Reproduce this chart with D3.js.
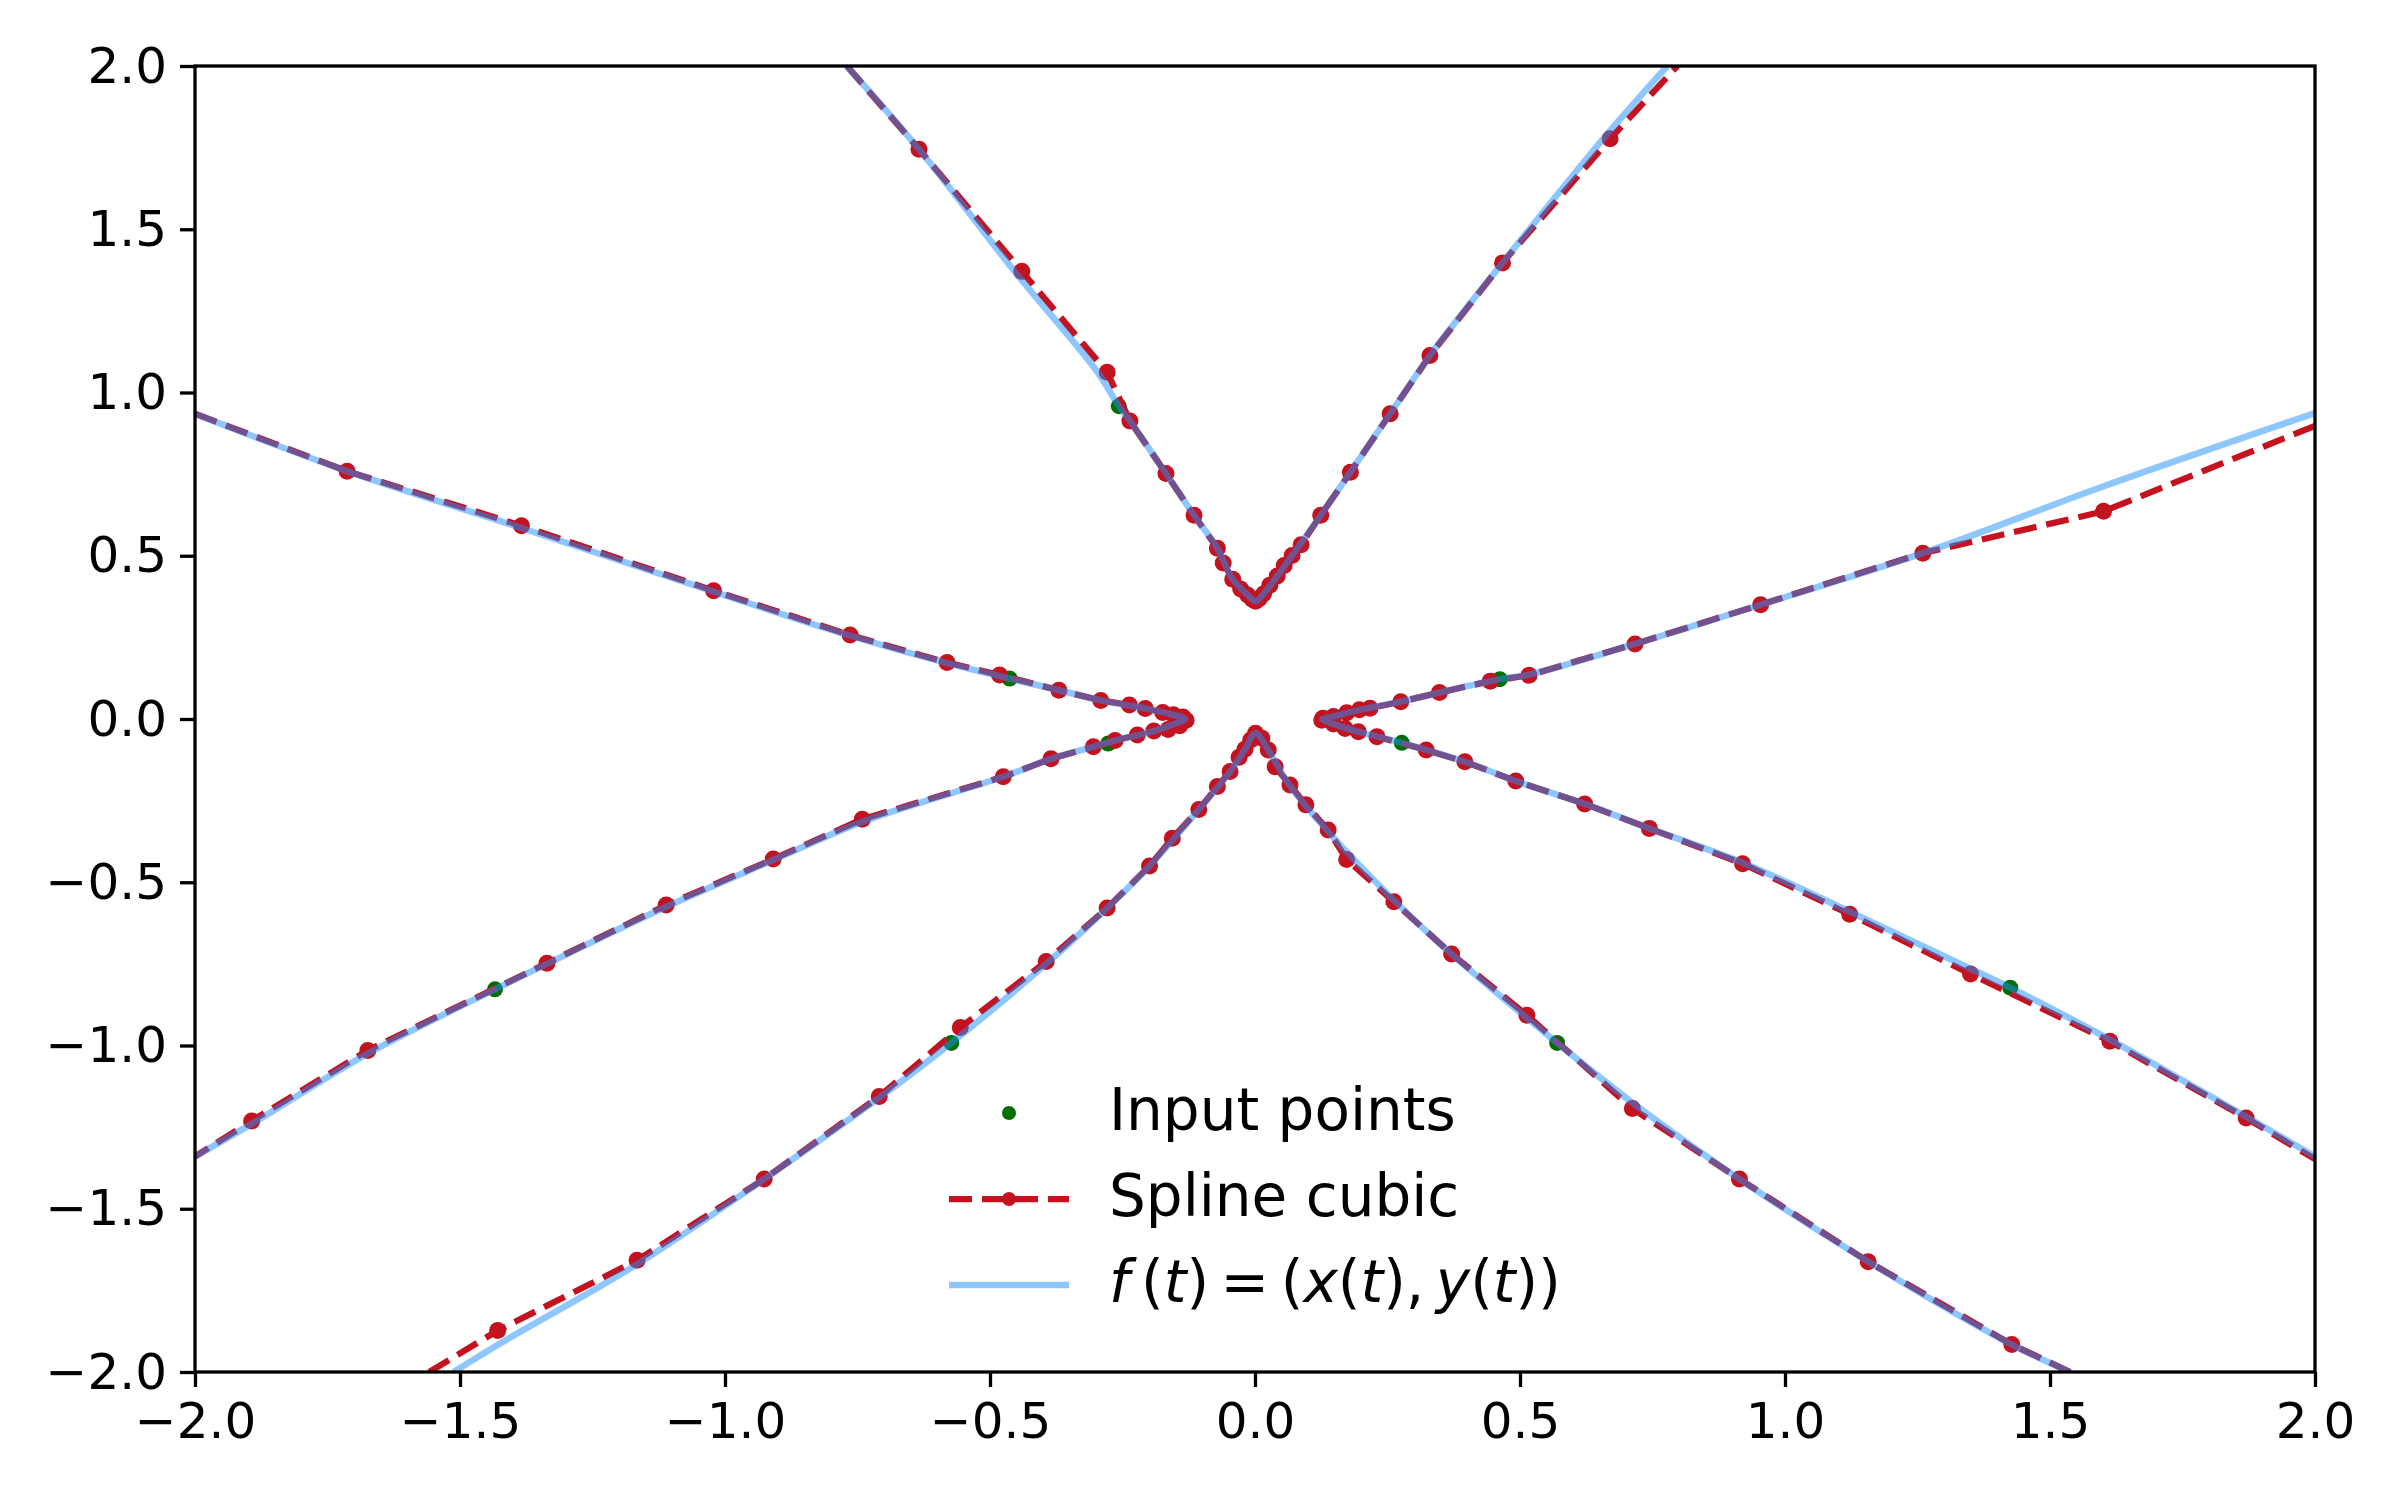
<!DOCTYPE html>
<meta charset="utf-8">
<html>
  <head>
    <style>
      body { margin: 0; background: #fff; }
      .tick text { font-family: "DejaVu Sans", sans-serif; font-size: 50px; fill: #000; }
      .tick line { stroke: #000; stroke-width: 3.3px; }
      .domain { display: none; }
      text.legend { font-family: "DejaVu Sans", sans-serif; font-size: 58px; fill: #000; }
    </style>
    <script src="https://d3js.org/d3.v7.min.js"></script>
  </head>
  <body>
    <div id="chart"></div>
    <script type="text/javascript">
      // tick values shared by both axes
      var ticks = [-2.0, -1.5, -1.0, -0.5, 0.0, 0.5, 1.0, 1.5, 2.0];

      // green input points
      var inputPoints = [
        [-0.257, 0.958], [0.255, 0.935], [-0.463, 0.124], [-0.277, -0.075],
        [0.462, 0.122], [0.277, -0.073], [-0.573, -0.992], [0.570, -0.992],
        [-1.434, -0.828], [1.425, -0.823]
      ];

      // red spline samples, one array per branch
      var splineTop = [
        [-0.770, 2.0], [-0.634, 1.745], [-0.440, 1.371], [-0.279, 1.062], [-0.236, 0.913],
        [-0.168, 0.752], [-0.115, 0.624], [-0.071, 0.523], [-0.060, 0.478], [-0.042, 0.428],
        [-0.027, 0.398], [-0.014, 0.380], [-0.005, 0.367], [0.001, 0.361], [0.008, 0.368],
        [0.016, 0.383], [0.028, 0.410], [0.042, 0.438], [0.055, 0.470], [0.070, 0.501],
        [0.087, 0.534], [0.124, 0.624], [0.180, 0.756], [0.255, 0.935], [0.330, 1.113],
        [0.467, 1.397], [0.670, 1.777], [0.797, 2.0]
      ];
      var splineLeft = [
        [-2.0, 0.935], [-1.713, 0.759], [-1.384, 0.592], [-1.0215, 0.393], [-0.764, 0.257],
        [-0.581, 0.173], [-0.482, 0.135], [-0.370, 0.088], [-0.291, 0.057], [-0.237, 0.043],
        [-0.207, 0.032], [-0.174, 0.020], [-0.154, 0.013], [-0.136, 0.006], [-0.130, -0.004],
        [-0.142, -0.021], [-0.164, -0.032], [-0.191, -0.037], [-0.222, -0.049], [-0.264, -0.066],
        [-0.305, -0.085], [-0.385, -0.122], [-0.475, -0.177], [-0.741, -0.307], [-0.909, -0.429],
        [-1.111, -0.570], [-1.336, -0.748], [-1.674, -1.015], [-1.893, -1.231], [-2.0, -1.34]
      ];
      var splineRight = [
        [2.0, 0.898], [1.601, 0.636], [1.260, 0.508], [0.954, 0.350], [0.717, 0.230],
        [0.517, 0.134], [0.444, 0.116], [0.348, 0.081], [0.275, 0.053], [0.217, 0.033],
        [0.197, 0.028], [0.173, 0.019], [0.148, 0.008], [0.128, 0.002], [0.126, -0.004],
        [0.148, -0.015], [0.170, -0.029], [0.195, -0.039], [0.230, -0.054], [0.323, -0.095],
        [0.396, -0.131], [0.492, -0.190], [0.622, -0.260], [0.744, -0.335], [0.920, -0.443],
        [1.122, -0.598], [1.350, -0.781], [1.613, -0.987], [1.870, -1.222], [2.0, -1.348]
      ];
      var splineBottom = [
        [-1.558, -2.0], [-1.429, -1.873], [-1.166, -1.658], [-0.926, -1.409], [-0.709, -1.156],
        [-0.556, -0.945], [-0.394, -0.743], [-0.279, -0.579], [-0.199, -0.450], [-0.156, -0.365],
        [-0.106, -0.277], [-0.071, -0.207], [-0.047, -0.161], [-0.030, -0.117], [-0.019, -0.093],
        [-0.008, -0.064], [0.001, -0.044], [0.013, -0.059], [0.025, -0.095], [0.038, -0.146],
        [0.066, -0.202], [0.096, -0.263], [0.138, -0.340], [0.173, -0.430], [0.262, -0.560],
        [0.371, -0.720], [0.513, -0.907], [0.712, -1.193], [0.914, -1.409], [1.157, -1.662],
        [1.428, -1.916], [1.538, -2.0]
      ];

      // blue curve f(t), one array per branch
      var curveTop = [
        [-0.770, 2.0], [-0.634, 1.745], [-0.453, 1.370], [-0.297, 1.062], [-0.257, 0.958],
        [-0.236, 0.913], [-0.168, 0.752], [-0.115, 0.624], [-0.071, 0.523], [-0.042, 0.428],
        [-0.014, 0.380], [0.001, 0.361], [0.016, 0.383], [0.042, 0.438], [0.070, 0.501],
        [0.124, 0.624], [0.180, 0.756], [0.255, 0.935], [0.330, 1.113], [0.467, 1.397],
        [0.657, 1.777], [0.778, 2.0]
      ];
      var curveLeft = [
        [-2.0, 0.935], [-1.713, 0.759], [-1.384, 0.585], [-1.0215, 0.390], [-0.764, 0.255],
        [-0.581, 0.171], [-0.463, 0.124], [-0.370, 0.088], [-0.291, 0.057], [-0.207, 0.032],
        [-0.154, 0.013], [-0.132, 0.0], [-0.154, -0.016], [-0.191, -0.037], [-0.264, -0.066],
        [-0.305, -0.085], [-0.385, -0.122], [-0.475, -0.177], [-0.741, -0.315], [-0.909, -0.432],
        [-1.111, -0.575], [-1.336, -0.750], [-1.434, -0.828], [-1.674, -1.025], [-1.893, -1.240],
        [-2.0, -1.34]
      ];
      var curveRight = [
        [2.0, 0.937], [1.600, 0.712], [1.260, 0.508], [0.954, 0.350], [0.717, 0.230],
        [0.517, 0.136], [0.462, 0.122], [0.348, 0.081], [0.275, 0.053], [0.197, 0.028],
        [0.148, 0.008], [0.127, -0.001], [0.148, -0.015], [0.195, -0.039], [0.277, -0.073],
        [0.396, -0.131], [0.492, -0.190], [0.622, -0.260], [0.744, -0.335], [0.920, -0.440],
        [1.122, -0.590], [1.350, -0.765], [1.425, -0.823], [1.613, -0.982], [1.870, -1.218],
        [2.0, -1.34]
      ];
      var curveBottom = [
        [-1.512, -2.0], [-1.430, -1.918], [-1.166, -1.670], [-0.926, -1.409], [-0.709, -1.160],
        [-0.573, -0.992], [-0.394, -0.750], [-0.279, -0.579], [-0.199, -0.450], [-0.106, -0.277],
        [-0.047, -0.161], [-0.019, -0.093], [0.001, -0.044], [0.025, -0.095], [0.066, -0.205],
        [0.138, -0.345], [0.262, -0.555], [0.371, -0.720], [0.570, -0.992], [0.712, -1.175],
        [0.914, -1.409], [1.157, -1.662], [1.428, -1.916], [1.538, -2.0]
      ];

      var legendLabels = ["Input points", "Spline cubic"];

      var splines = [splineTop, splineLeft, splineRight, splineBottom];
      var curves = [curveTop, curveLeft, curveRight, curveBottom];

      var margin = { top: 66, right: 85, bottom: 128, left: 195 },
          width = 2400 - margin.left - margin.right,
          height = 1500 - margin.top - margin.bottom,
          red = "#c4121f",
          blue = "#1e90ff",
          green = "#006f00";

      var svg = d3.select("#chart").append("svg")
          .attr("width", 2400)
          .attr("height", 1500)
          .style("background", "#fff")
          .append("g")
          .attr("transform", "translate(" + margin.left + "," + margin.top + ")");

      var x = d3.scaleLinear().domain([-2, 2]).range([0, width]);
      var y = d3.scaleLinear().domain([-2, 2]).range([height, 0]);
      var fmt = d3.format(".1f");

      svg.append("clipPath").attr("id", "clip")
        .append("rect").attr("width", width).attr("height", height);

      svg.append("g")
          .attr("transform", "translate(0," + height + ")")
          .call(d3.axisBottom(x).tickValues(ticks).tickFormat(fmt).tickSize(15).tickPadding(15));

      svg.append("g")
          .call(d3.axisLeft(y).tickValues(ticks).tickFormat(fmt).tickSize(15).tickPadding(13));

      var plot = svg.append("g").attr("clip-path", "url(#clip)");

      var line = d3.line().x(function(d) { return x(d[0]); }).y(function(d) { return y(d[1]); });
      var smooth = d3.line().x(function(d) { return x(d[0]); }).y(function(d) { return y(d[1]); })
          .curve(d3.curveCatmullRom.alpha(0.5));

      // input points
      plot.selectAll(".input")
          .data(inputPoints)
          .enter().append("circle")
            .attr("class", "input")
            .attr("cx", function(d) { return x(d[0]); })
            .attr("cy", function(d) { return y(d[1]); })
            .attr("r", 8)
            .style("fill", green);

      // spline, dashed with dots
      splines.forEach(function(s) {
        plot.append("path")
            .attr("d", line(s))
            .style("fill", "none")
            .style("stroke", red)
            .style("stroke-width", 6.25)
            .style("stroke-dasharray", "23,10");
        plot.selectAll(null)
            .data(s.slice(1, -1))
            .enter().append("circle")
              .attr("cx", function(d) { return x(d[0]); })
              .attr("cy", function(d) { return y(d[1]); })
              .attr("r", 8.5)
              .style("fill", red);
      });

      // f(t) on top, half transparent
      curves.forEach(function(c) {
        plot.append("path")
            .attr("d", smooth(c))
            .style("fill", "none")
            .style("stroke", blue)
            .style("stroke-opacity", 0.5)
            .style("stroke-width", 6.5);
      });

      // frame
      svg.append("rect")
          .attr("width", width)
          .attr("height", height)
          .style("fill", "none")
          .style("stroke", "#000")
          .style("stroke-width", 3.3);

      // legend
      var lg = svg.append("g").attr("transform", "translate(" + (949 - margin.left) + "," + (1113 - margin.top) + ")");
      var rowH = 86;

      lg.append("circle").attr("cx", 60).attr("cy", 0).attr("r", 7).style("fill", green);

      lg.append("line").attr("x1", 0).attr("x2", 120).attr("y1", rowH).attr("y2", rowH)
          .style("stroke", red).style("stroke-width", 6.25).style("stroke-dasharray", "23,10");
      lg.append("circle").attr("cx", 60).attr("cy", rowH).attr("r", 7).style("fill", red);

      lg.append("line").attr("x1", 0).attr("x2", 120).attr("y1", 2 * rowH).attr("y2", 2 * rowH)
          .style("stroke", blue).style("stroke-opacity", 0.5).style("stroke-width", 6.5);

      lg.selectAll(".lbl")
          .data(legendLabels)
          .enter().append("text")
            .attr("class", "legend lbl")
            .attr("x", 160)
            .attr("y", function(d, i) { return i * rowH; })
            .attr("dy", "0.30em")
            .text(function(d) { return d; });

      // f(t) = (x(t), y(t)) in math style
      var mathParts = [
        ["f", true], ["\u2009(", false], ["t", true], [")\u2009=\u2009(", false], ["x", true],
        ["(", false], ["t", true], ["),\u2009", false], ["y", true], ["(", false], ["t", true], ["))", false]
      ];
      var mt = lg.append("text")
          .attr("class", "legend")
          .attr("x", 160)
          .attr("y", 2 * rowH)
          .attr("dy", "0.30em");
      mt.selectAll("tspan")
          .data(mathParts)
          .enter().append("tspan")
            .style("font-style", function(d) { return d[1] ? "italic" : "normal"; })
            .text(function(d) { return d[0]; });
    </script>
  </body>
</html>
